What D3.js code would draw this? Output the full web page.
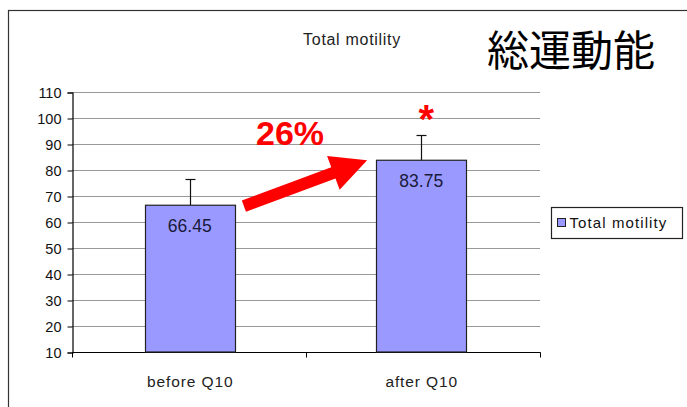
<!DOCTYPE html>
<html><head><meta charset="utf-8">
<script src="https://cdn.jsdelivr.net/npm/d3@7"></script>
<style>body{margin:0;background:#fff}svg{display:block}</style>
</head><body>
<script>
const categories = ["before Q10", "after Q10"];
const values = [66.45, 83.75];
const errors = [10.0, 9.8];
const yTicks = [10, 20, 30, 40, 50, 60, 70, 80, 90, 100, 110];
const seriesName = "Total motility";
const title = "Total motility";
const jpTitle = "総運動能";
const increaseLabel = "26%";
const sigMark = "*";

const W = 687, H = 407;
const svg = d3.select("body").append("svg").attr("width", W).attr("height", H);
const font = "Liberation Sans, Arial, sans-serif";

// outer frame
svg.append("rect").attr("x", 8.5).attr("y", 10.5).attr("width", 700).attr("height", 420)
  .attr("fill", "none").attr("stroke", "#333").attr("stroke-width", 1.2);

const m = {l: 72, r: 540, t: 92, b: 352};
const x = d3.scaleBand().domain(categories).range([m.l + 2, m.r - 3]).paddingInner(0.61).paddingOuter(0.305);
const y = d3.scaleLinear().domain([10, 110]).range([m.b, m.t]);

// gridlines
svg.append("g").selectAll("line").data(yTicks.slice(1)).join("line")
  .attr("x1", m.l).attr("x2", m.r).attr("y1", d => y(d) + 0.5).attr("y2", d => y(d) + 0.5)
  .attr("stroke", "#999").attr("stroke-width", 1.2);

// y axis
const ya = svg.append("g").attr("transform", `translate(${m.l + 0.5},0.5)`)
  .call(d3.axisLeft(y).tickValues(yTicks).tickSize(5).tickPadding(6));
ya.select(".domain").attr("stroke", "#000").attr("stroke-width", 1.2);
ya.selectAll(".tick line").attr("stroke", "#000");
ya.selectAll("text").attr("font-family", font).attr("font-size", 14.5).attr("fill", "#111");

// x axis
const xa = svg.append("g").attr("transform", `translate(0.5,${m.b + 0.5})`);
xa.append("line").attr("x1", m.l).attr("x2", m.r).attr("stroke", "#000").attr("stroke-width", 1.2);
const boundaries = [m.l, (m.l + m.r) / 2, m.r];
xa.selectAll("line.t").data(boundaries).join("line").attr("class", "t")
  .attr("x1", d => d).attr("x2", d => d).attr("y1", 0).attr("y2", 5).attr("stroke", "#000");
xa.selectAll("text").data(categories).join("text")
  .attr("x", d => x(d) + x.bandwidth() / 2).attr("y", 34)
  .attr("text-anchor", "middle").attr("font-family", font).attr("font-size", 15.5)
  .attr("letter-spacing", 0.9).attr("fill", "#222").text(d => d);

// error bars
const eg = svg.append("g");
categories.forEach((c, i) => {
  const cx = Math.round(x(c) + x.bandwidth() / 2) + 0.5;
  const ty = Math.round(y(values[i] + errors[i])) + 0.5;
  eg.append("line").attr("x1", cx).attr("x2", cx)
    .attr("y1", y(values[i])).attr("y2", ty).attr("stroke", "#111").attr("stroke-width", 1.2);
  eg.append("line").attr("x1", cx - 5).attr("x2", cx + 5)
    .attr("y1", ty).attr("y2", ty).attr("stroke", "#111").attr("stroke-width", 1.2);
});

// bars
svg.append("g").selectAll("rect").data(categories).join("rect")
  .attr("x", d => Math.round(x(d)) + 0.5).attr("y", (d, i) => y(values[i]))
  .attr("width", Math.round(x.bandwidth())).attr("height", (d, i) => m.b - y(values[i]))
  .attr("fill", "#9999ff").attr("stroke", "#222").attr("stroke-width", 1.2);

// data labels
svg.append("g").selectAll("text").data(categories).join("text")
  .attr("x", d => x(d) + x.bandwidth() / 2).attr("y", (d, i) => y(values[i]) + 27)
  .attr("text-anchor", "middle").attr("font-family", font).attr("font-size", 17.5)
  .attr("fill", "#1a1a3a").text((d, i) => values[i].toFixed(2));

// titles
svg.append("text").attr("x", 352).attr("y", 45).attr("text-anchor", "middle")
  .attr("font-family", font).attr("font-size", 16).attr("letter-spacing", 0.7)
  .attr("fill", "#222").text(title);
svg.append("text").attr("x", 571).attr("y", 66).attr("text-anchor", "middle")
  .attr("font-family", "Noto Sans CJK JP, sans-serif").attr("font-size", 42).attr("fill", "#000").text(jpTitle);

// red arrow
const x0 = x(categories[0]) + x.bandwidth(), x1 = x(categories[1]);
const tail = [x0 + 9, y(values[0]) + 1];
const tip = [x1 - 9, y(values[1])];
const dx = tip[0] - tail[0], dy = tip[1] - tail[1], L = Math.hypot(dx, dy);
const ux = dx / L, uy = dy / L, nx = -uy, ny = ux;
const hw = 6, hl = 36, hh = 18;
const bx = tip[0] - ux * hl, by = tip[1] - uy * hl;
const pts = [
  [tail[0] + nx * hw, tail[1] + ny * hw], [bx + nx * hw, by + ny * hw], [bx + nx * hh, by + ny * hh],
  tip, [bx - nx * hh, by - ny * hh], [bx - nx * hw, by - ny * hw], [tail[0] - nx * hw, tail[1] - ny * hw]
];
svg.append("path").attr("d", d3.line()(pts) + "Z").attr("fill", "#ff0000");

svg.append("text").attr("x", 290).attr("y", 145).attr("text-anchor", "middle")
  .attr("font-family", font).attr("font-weight", "bold").attr("font-size", 34)
  .attr("fill", "#ff0000").text(increaseLabel);
svg.append("text").attr("x", x(categories[1]) + x.bandwidth() / 2 + 5).attr("y", 133).attr("text-anchor", "middle")
  .attr("font-family", font).attr("font-weight", "bold").attr("font-size", 40)
  .attr("fill", "#ff0000").text(sigMark);

// legend
const lg = svg.append("g").attr("transform", "translate(551.5,207.5)");
lg.append("rect").attr("width", 131).attr("height", 31).attr("fill", "#fff").attr("stroke", "#222").attr("stroke-width", 1.2);
lg.append("rect").attr("x", 6).attr("y", 11).attr("width", 8).attr("height", 8).attr("fill", "#9999ff").attr("stroke", "#222");
lg.append("text").attr("x", 18).attr("y", 20).attr("font-family", font).attr("font-size", 15)
  .attr("letter-spacing", 1.1).attr("fill", "#111").text(seriesName);
</script>
</body></html>
